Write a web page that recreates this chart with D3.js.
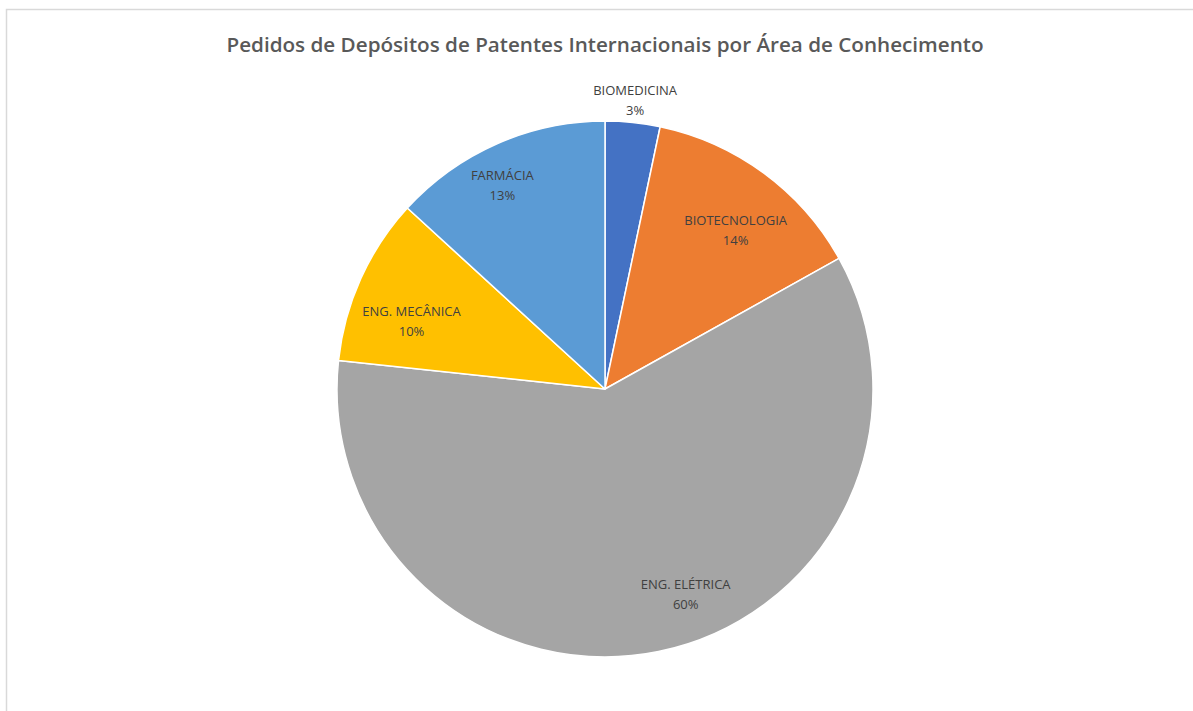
<!DOCTYPE html>
<html>
<head>
<meta charset="utf-8">
<script src="https://cdn.jsdelivr.net/npm/d3@7"></script>
<style>
  html, body { margin: 0; padding: 0; background: #fff; }
  svg { display: block; }
</style>
</head>
<body>
<svg id="chart" width="1193" height="711"></svg>
<script>
// data (share of requests, %)
const categories = ['BIOMEDICINA', 'BIOTECNOLOGIA', 'ENG. ELÉTRICA', 'ENG. MECÂNICA', 'FARMÁCIA'];
const values = [3.3, 13.6, 59.8, 10.1, 13.2];
const colors = ['#4472C4', '#ED7D31', '#A5A5A5', '#FFC000', '#5B9BD5'];
const title = 'Pedidos de Depósitos de Patentes Internacionais por Área de Conhecimento';

// label placement (radius + angle nudge in degrees), like Excel "best fit"
const labelLayout = {
  'BIOMEDICINA':   {r: 291, da: 0},
  'BIOTECNOLOGIA': {r: 206, da: 3},
  'ENG. ELÉTRICA': {r: 220, da: -10},
  'ENG. MECÂNICA': {r: 205, da: -5},
  'FARMÁCIA':      {r: 228, da: -3}
};

const width = 1193, height = 711;
const cx = 605, cy = 389, radius = 268;

const svg = d3.select('#chart');

// chart area frame
svg.append('rect')
  .attr('x', 6.5).attr('y', 9.5)
  .attr('width', 1200).attr('height', 720)
  .attr('fill', '#fff')
  .attr('stroke', '#d9d9d9')
  .attr('stroke-width', 1.5);

svg.append('text')
  .attr('x', cx).attr('y', 52)
  .attr('text-anchor', 'middle')
  .attr('font-family', 'Open Sans, sans-serif')
  .attr('font-weight', 600)
  .attr('font-size', 20)
  .attr('textLength', 757)
  .attr('lengthAdjust', 'spacingAndGlyphs')
  .attr('fill', '#595959')
  .text(title);

const data = categories.map((c, i) => ({name: c, value: values[i], color: colors[i]}));
const total = d3.sum(values);

const pie = d3.pie().sort(null).value(d => d.value);
const arc = d3.arc().innerRadius(0).outerRadius(radius);
const arcs = pie(data);

const g = svg.append('g').attr('transform', `translate(${cx},${cy})`);

g.selectAll('path.slice')
  .data(arcs)
  .enter().append('path')
  .attr('class', 'slice')
  .attr('d', arc)
  .attr('fill', d => d.data.color)
  .attr('stroke', '#fff')
  .attr('stroke-width', 1.5)
  .attr('stroke-linejoin', 'round');

const fmt = d3.format('.0%');

const labels = g.selectAll('g.label')
  .data(arcs)
  .enter().append('g')
  .attr('class', 'label')
  .attr('transform', d => {
    const lay = labelLayout[d.data.name];
    const a = (d.startAngle + d.endAngle) / 2 + lay.da * Math.PI / 180;
    return `translate(${lay.r * Math.sin(a)},${-lay.r * Math.cos(a)})`;
  });

labels.selectAll('text')
  .data(d => [d.data.name, fmt(d.data.value / total)])
  .enter().append('text')
  .attr('y', (d, i) => i === 0 ? -5 : 15)
  .attr('text-anchor', 'middle')
  .attr('font-family', 'Open Sans, sans-serif')
  .attr('font-size', 13)
  .attr('fill', '#404040')
  .text(d => d);
</script>
</body>
</html>
